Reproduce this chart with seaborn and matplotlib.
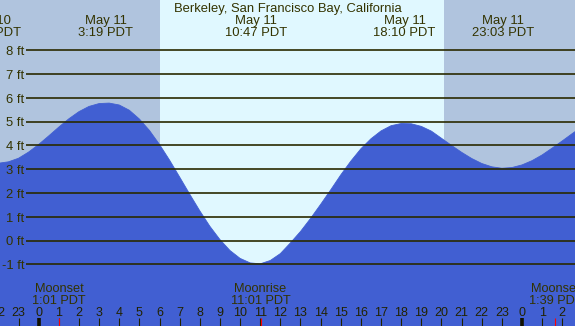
import matplotlib
matplotlib.use("Agg")
import matplotlib.pyplot as plt
import seaborn as sns
import pandas as pd

# ---------------- data ----------------
hours = [-2.0, -1.5, -1.0, -0.5, 0.0, 0.5, 1.0, 1.5, 2.0, 2.5, 3.0, 3.5,
         4.0, 4.5, 5.0, 5.5, 6.0, 6.5, 7.0, 7.5, 8.0, 8.5, 9.0, 9.5,
         10.0, 10.5, 11.0, 11.5, 12.0, 12.5, 13.0, 13.5, 14.0, 14.5, 15.0, 15.5,
         16.0, 16.5, 17.0, 17.5, 18.0, 18.5, 19.0, 19.5, 20.0, 20.5, 21.0, 21.5,
         22.0, 22.5, 23.0, 23.5, 24.0, 24.5, 25.0, 25.5, 26.0, 26.5, 27.0]
heights = [3.25, 3.31, 3.46, 3.72, 4.04, 4.40, 4.77, 5.12, 5.42, 5.64, 5.76, 5.78,
           5.70, 5.48, 5.11, 4.63, 4.04, 3.38, 2.67, 1.95, 1.25, 0.60, 0.04, -0.42,
           -0.75, -0.94, -0.98, -0.84, -0.55, -0.10, 0.38, 0.93, 1.52, 2.13, 2.76, 3.34,
           3.86, 4.28, 4.61, 4.83, 4.92, 4.91, 4.80, 4.60, 4.30, 4.00, 3.71, 3.45,
           3.24, 3.10, 3.04, 3.07, 3.18, 3.36, 3.60, 3.89, 4.19, 4.50, 4.80]

title = "Berkeley, San Francisco Bay, California"
event_times = [-2.42, 3.32, 10.78, 18.17, 23.05]
event_dates = ["May 10", "May 11", "May 11", "May 11", "May 11"]
event_clock = ["21:35 PDT", "3:19 PDT", "10:47 PDT", "18:10 PDT", "23:03 PDT"]

moon_times = [1.02, 11.02, 25.65]
moon_names = ["Moonset", "Moonrise", "Moonset"]
moon_clock = ["1:01 PDT", "11:01 PDT", "1:39 PDT"]

sunrise = 6.02
sunset = 20.12

ft_levels = [-1, 0, 1, 2, 3, 4, 5, 6, 7, 8]
ft_labels = [f"{v} ft" for v in ft_levels]

hour_ticks = list(range(-2, 27))
hour_labels = [str(h % 24) for h in hour_ticks]
midnights = [0, 24]

# ---------------- style ----------------
W, H = 575, 326
XMIN, XMAX = -1.92, 26.63
YMIN, YMAX = -3.594, 10.115
NIGHT = "#b0c4de"
DAY = "#e0f8ff"
WATER = "#415fd2"
LINE = "#2a2a00"
TXT = "#333300"

sns.set_theme(style="white")
plt.rcParams["font.family"] = ["Liberation Sans", "DejaVu Sans"]

fig = plt.figure(figsize=(W / 100, H / 100), dpi=100)
ax = fig.add_axes([0, 0, 1, 1])
ax.set_xlim(XMIN, XMAX)
ax.set_ylim(YMIN, YMAX)
ax.axis("off")

# day / night background
ax.axvspan(XMIN - 5, sunrise, color=NIGHT, lw=0, zorder=0)
ax.axvspan(sunrise, sunset, color=DAY, lw=0, zorder=0)
ax.axvspan(sunset, XMAX + 5, color=NIGHT, lw=0, zorder=0)

# tide
df = pd.DataFrame({"hour": hours, "ft": heights})
ax.fill_between(df["hour"], df["ft"], YMIN - 1, color=WATER, lw=0, zorder=2)
sns.lineplot(data=df, x="hour", y="ft", color=WATER, lw=0.6, ax=ax, zorder=2)

# grid lines & labels
ytr = ax.get_yaxis_transform()
ax.hlines(ft_levels, 26 / W, 1, transform=ytr, colors=LINE, lw=1.2, zorder=3)
for v, lab in zip(ft_levels, ft_labels):
    ax.text(24 / W, v - 0.20, lab, transform=ytr, ha="right", va="baseline",
            fontsize=9.4, color=TXT, zorder=4)

xtr = ax.get_xaxis_transform()


def ay(px):
    return 1 - px / H


# title
ax.text(0.5, ay(11.7), title, transform=ax.transAxes, ha="center", va="baseline",
        fontsize=9.4, color=TXT, zorder=4)

# tide event labels
for t, d, c in zip(event_times, event_dates, event_clock):
    ax.text(t, ay(24), d, transform=xtr, ha="center", va="baseline",
            fontsize=9.4, color=TXT, zorder=4)
    ax.text(t, ay(36), c, transform=xtr, ha="center", va="baseline",
            fontsize=9.4, color=TXT, zorder=4)

# moon labels
for t, n, c in zip(moon_times, moon_names, moon_clock):
    ax.text(t, ay(291.7), n, transform=xtr, ha="center", va="baseline",
            fontsize=9.2, color=TXT, zorder=4)
    ax.text(t, ay(304), c, transform=xtr, ha="center", va="baseline",
            fontsize=9.2, color=TXT, zorder=4)

# hour labels & ticks
for h, lab in zip(hour_ticks, hour_labels):
    ax.text(h, ay(316), lab, transform=xtr, ha="center", va="baseline",
            fontsize=9.0, color="#222200", zorder=4)
ax.vlines(hour_ticks, 0, 8 / H, transform=xtr, colors="#222200", lw=0.8, zorder=4)
ax.vlines(midnights, 0, 8 / H, transform=xtr, colors="#111100", lw=2.6, zorder=4)
ax.vlines(moon_times, 0, 8 / H, transform=xtr, colors="#ff0000", lw=0.8, zorder=5)

fig.savefig("out.png", dpi=100)
